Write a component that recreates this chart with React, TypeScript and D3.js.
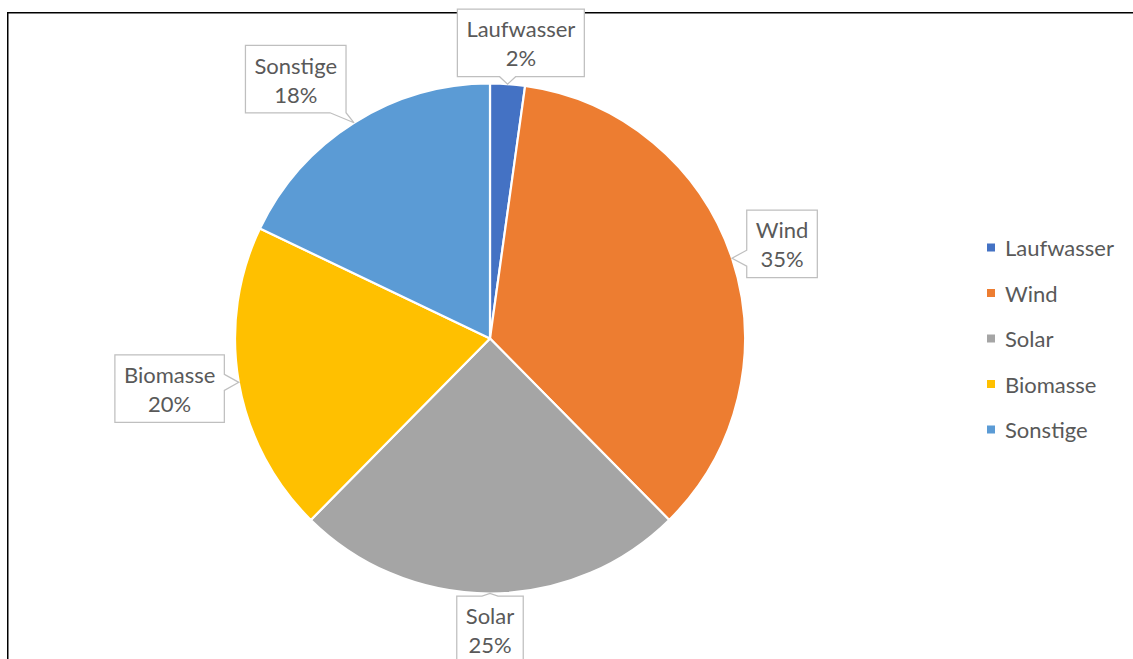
import React, { useEffect, useRef } from "react";
import * as d3 from "d3";

const categories = ["Laufwasser", "Wind", "Solar", "Biomasse", "Sonstige"];
const values = [2.2, 35.4, 24.8, 19.7, 17.9];
const colors = ["#4472C4", "#ED7D31", "#A5A5A5", "#FFC000", "#5B9BD5"];

// label layout tweaks (gap from pie edge in px, angular shift in degrees)
const labelGap = [2, 8, 2.5, 10, 12];
const labelShift = [2, 0.4, 0, 1, -4.6];

const W = 1133;
const H = 659;
const FONT = "Lato, 'Open Sans', sans-serif";
const FS = 22;
const TEXT = "#595959";

export default function App() {
  const ref = useRef<SVGSVGElement>(null);
  useEffect(() => {
    const svg = d3.select(ref.current);
    svg.selectAll("*").remove();
    svg.append("rect").attr("x", 0).attr("y", 0).attr("width", W).attr("height", H).attr("fill", "#fff");
    svg.append("rect").attr("x", 7.75).attr("y", 12.75).attr("width", 1400).attr("height", 900)
      .attr("fill", "none").attr("stroke", "#000").attr("stroke-width", 1.5);

    const cx = 490, cy = 338.5, r = 255;
    const data = categories.map((c, i) => ({ name: c, value: values[i], color: colors[i] }));
    const total = d3.sum(values);
    const pie = d3.pie<any>().value((d: any) => d.value).sort(null);
    const arcs = pie(data);
    const arc = d3.arc<any>().innerRadius(0).outerRadius(r);
    const g = svg.append("g").attr("transform", `translate(${cx},${cy})`);
    g.selectAll("path.slice").data(arcs).join("path").attr("class", "slice")
      .attr("d", arc as any).attr("fill", (d: any) => d.data.color)
      .attr("stroke", "#fff").attr("stroke-width", 2.2).attr("stroke-linejoin", "round");

    arcs.forEach((a: any, i: number) => {
      const mid = (a.startAngle + a.endAngle) / 2;
      const ang = mid + (labelShift[i] * Math.PI) / 180;
      const ux = Math.sin(ang), uy = -Math.cos(ang);
      const lg = g.append("g");
      const path = lg.append("path");
      const t1 = lg.append("text").text(a.data.name)
        .attr("font-family", FONT).attr("font-size", FS).attr("fill", TEXT)
        .attr("text-anchor", "middle").attr("dominant-baseline", "central");
      const t2 = lg.append("text").text(Math.round((a.data.value / total) * 100) + "%")
        .attr("font-family", FONT).attr("font-size", FS).attr("fill", TEXT)
        .attr("text-anchor", "middle").attr("dominant-baseline", "central");
      const tw = Math.max((t1.node() as any).getComputedTextLength(), (t2.node() as any).getComputedTextLength());
      const w = tw + 18;
      const h = 67.5;
      const dist = r + labelGap[i] + Math.abs(ux) * w / 2 + Math.abs(uy) * h / 2;
      const bx = ux * dist, by = uy * dist;
      t1.attr("x", bx).attr("y", by - 14);
      t2.attr("x", bx).attr("y", by + 15);
      const tx = Math.sin(mid) * r, ty = -Math.cos(mid) * r;
      const L = bx - w / 2, R = bx + w / 2, T = by - h / 2, B = by + h / 2;
      const dxo = tx < L ? L - tx : tx > R ? tx - R : 0;
      const dyo = ty < T ? T - ty : ty > B ? ty - B : 0;
      const hw = 8;
      const clamp = (v: number, lo: number, hi: number) => Math.max(lo, Math.min(hi, v));
      let side = "";
      if (dyo >= dxo) side = ty > B ? "bottom" : "top";
      else side = tx > R ? "right" : "left";
      const p: [number, number][] = [];
      p.push([L, T]);
      if (side === "top") { const c = clamp(tx, L + hw, R - hw); p.push([c - hw, T], [tx, ty], [c + hw, T]); }
      p.push([R, T]);
      if (side === "right") { const c = clamp(ty, T + hw, B - hw); p.push([R, c - hw], [tx, ty], [R, c + hw]); }
      p.push([R, B]);
      if (side === "bottom") { const c = clamp(tx, L + hw, R - hw); p.push([c + hw, B], [tx, ty], [c - hw, B]); }
      p.push([L, B]);
      if (side === "left") { const c = clamp(ty, T + hw, B - hw); p.push([L, c + hw], [tx, ty], [L, c - hw]); }
      path.attr("d", "M" + p.map((q) => q.join(",")).join("L") + "Z")
        .attr("fill", "#fff").attr("stroke", "#BFBFBF").attr("stroke-width", 1.25);
    });

    const leg = svg.append("g");
    categories.forEach((c, i) => {
      const y = cy + (i - 2) * 45.5;
      leg.append("rect").attr("x", 987).attr("y", y - 4).attr("width", 8).attr("height", 8).attr("fill", colors[i]);
      leg.append("text").attr("x", 1005).attr("y", y).text(c)
        .attr("font-family", FONT).attr("font-size", FS).attr("fill", TEXT)
        .attr("dominant-baseline", "central");
    });
  }, []);

  return (
    <div style={{ position: "absolute", left: 0, top: 0, width: W, height: H, overflow: "hidden" }}>
      <svg ref={ref} width={W} height={H} />
    </div>
  );
}
